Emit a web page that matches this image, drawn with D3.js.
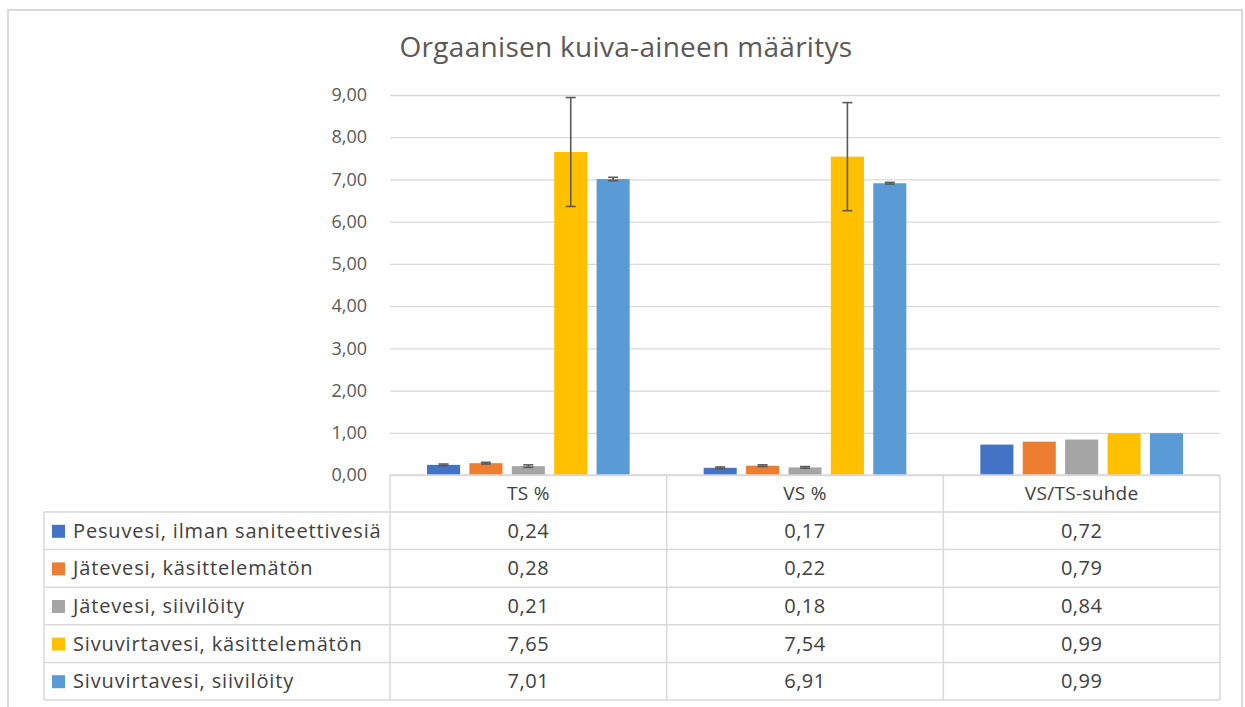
<!DOCTYPE html>
<html>
  <head>
    <meta charset="utf-8">
    <script src="https://d3js.org/d3.v7.min.js"></script>
  </head>
  <style>
    body { margin: 0; background: #fff; }
    text { font-family: "Open Sans", sans-serif; }
  </style>
  <body>
    <div id="my_chart"></div>
    <script>
        // data
        var categories = ["TS %", "VS %", "VS/TS-suhde"];
        var series = ["Pesuvesi, ilman saniteettivesiä", "Jätevesi, käsittelemätön", "Jätevesi, siivilöity",
                      "Sivuvirtavesi, käsittelemätön", "Sivuvirtavesi, siivilöity"];
        var values = [
            [0.24, 0.17, 0.72],
            [0.28, 0.22, 0.79],
            [0.21, 0.18, 0.84],
            [7.65, 7.54, 0.99],
            [7.01, 6.91, 0.99]
        ];
        var errors = [
            [0.02, 0.02, 0],
            [0.02, 0.02, 0],
            [0.03, 0.02, 0],
            [1.29, 1.28, 0],
            [0.04, 0.02, 0]
        ];
        var colors = ["#4472C4", "#ED7D31", "#A5A5A5", "#FFC000", "#5B9BD5"];
        var yTicks = [0, 1, 2, 3, 4, 5, 6, 7, 8, 9];

        var width = 1245, height = 707;
        var plot = {left: 390, right: 1220, top: 95, bottom: 475};
        var tableBottom = 700, tableLeft = 44, headerBottom = 512;

        var fi = d3.formatLocale({decimal: ",", thousands: " ", grouping: [3], currency: ["", "€"]});
        var fmt = fi.format(".2f");

        var svg = d3.select("#my_chart")
            .append("svg")
                .attr("width", width)
                .attr("height", height);

        // outer chart border
        svg.append("rect")
            .attr("x", 8).attr("y", 10)
            .attr("width", 1234).attr("height", 720)
            .attr("fill", "none")
            .attr("stroke", "#d9d9d9")
            .attr("stroke-width", 2);

        svg.append("text")
            .attr("x", 626)
            .attr("y", 57)
            .attr("text-anchor", "middle")
            .attr("font-size", "28px")
            .attr("letter-spacing", "0.3px")
            .attr("fill", "#595959")
            .text("Orgaanisen kuiva-aineen määritys");

        var x = d3.scaleBand()
            .domain(categories)
            .range([plot.left, plot.right]);

        var x1 = d3.scaleBand()
            .domain(d3.range(series.length))
            .range([37, x.bandwidth() - 37])
            .paddingInner(0.22);

        var y = d3.scaleLinear()
            .domain([0, 9])
            .range([plot.bottom, plot.top]);

        // grid + y labels
        var yAxis = svg.append("g")
            .attr("class", "grid")
            .attr("transform", "translate(" + plot.left + ",0)")
            .call(d3.axisLeft(y).tickValues(yTicks).tickSize(-(plot.right - plot.left)).tickFormat(fmt).tickPadding(23));
        yAxis.select(".domain").remove();
        yAxis.selectAll(".tick line").attr("stroke", "#d9d9d9").attr("stroke-width", 1.3);
        yAxis.selectAll(".tick text")
            .attr("font-size", "18px")
            .attr("fill", "#595959")
            .style("font-family", "'Open Sans', sans-serif");

        // bars
        var groups = svg.append("g")
            .selectAll("g")
            .data(series)
            .enter().append("g")
              .attr("fill", function(d, i) { return colors[i]; });

        groups.selectAll("rect")
            .data(function(d, i) { return categories.map(function(c, j) { return {s: i, c: c, v: values[i][j], e: errors[i][j]}; }); })
            .enter().append("rect")
              .attr("x", function(d) { return x(d.c) + x1(d.s); })
              .attr("y", function(d) { return y(d.v); })
              .attr("width", x1.bandwidth())
              .attr("height", function(d) { return y(0) - y(d.v); });

        // error bars
        var errs = [];
        series.forEach(function(s, i) {
            categories.forEach(function(c, j) {
                if (errors[i][j] > 0) errs.push({s: i, c: c, v: values[i][j], e: errors[i][j]});
            });
        });
        var eb = svg.append("g")
            .attr("stroke", "#595959")
            .attr("stroke-width", 1.6)
            .selectAll("g")
            .data(errs)
            .enter().append("g")
              .attr("transform", function(d) { return "translate(" + (x(d.c) + x1(d.s) + x1.bandwidth() / 2) + ",0)"; });
        eb.append("line")
            .attr("y1", function(d) { return y(d.v - d.e); })
            .attr("y2", function(d) { return y(d.v + d.e); });
        eb.append("line")
            .attr("x1", -5).attr("x2", 5)
            .attr("y1", function(d) { return y(d.v + d.e); })
            .attr("y2", function(d) { return y(d.v + d.e); });
        eb.append("line")
            .attr("x1", -5).attr("x2", 5)
            .attr("y1", function(d) { return y(d.v - d.e); })
            .attr("y2", function(d) { return y(d.v - d.e); });

        // data table
        var row = d3.scaleBand()
            .domain(series)
            .range([headerBottom, tableBottom]);

        var table = svg.append("g")
            .attr("stroke", "#d9d9d9")
            .attr("stroke-width", 1.5);
        table.append("line")
            .attr("x1", plot.left).attr("x2", plot.right)
            .attr("y1", plot.bottom).attr("y2", plot.bottom);
        table.selectAll(".hline")
            .data(series.concat(["end"]))
            .enter().append("line")
              .attr("x1", tableLeft).attr("x2", plot.right)
              .attr("y1", function(d) { return d == "end" ? tableBottom : row(d); })
              .attr("y2", function(d) { return d == "end" ? tableBottom : row(d); });
        table.selectAll(".vline")
            .data(categories.concat(["end"]))
            .enter().append("line")
              .attr("x1", function(d) { return d == "end" ? plot.right : x(d); })
              .attr("x2", function(d) { return d == "end" ? plot.right : x(d); })
              .attr("y1", plot.bottom).attr("y2", tableBottom);
        table.append("line")
            .attr("x1", tableLeft).attr("x2", tableLeft)
            .attr("y1", headerBottom).attr("y2", tableBottom);

        svg.append("g")
            .selectAll("text")
            .data(categories)
            .enter().append("text")
              .attr("x", function(d) { return x(d) + x.bandwidth() / 2; })
              .attr("y", (plot.bottom + headerBottom) / 2)
              .attr("dy", "0.35em")
              .attr("text-anchor", "middle")
              .attr("font-size", "19px")
              .attr("letter-spacing", "0.3px")
              .attr("fill", "#404040")
              .text(function(d) { return d; });

        var rows = svg.append("g")
            .selectAll("g")
            .data(series)
            .enter().append("g")
              .attr("transform", function(d) { return "translate(0," + (row(d) + row.bandwidth() / 2) + ")"; });

        rows.append("rect")
            .attr("x", 52).attr("y", -6)
            .attr("width", 13).attr("height", 13)
            .attr("fill", function(d, i) { return colors[i]; });

        rows.append("text")
            .attr("x", 73)
            .attr("dy", "0.35em")
            .attr("font-size", "20px")
            .attr("letter-spacing", "0.85px")
            .attr("fill", "#404040")
            .text(function(d) { return d; });

        rows.selectAll(".val")
            .data(function(d, i) { return values[i].map(function(v, j) { return {c: categories[j], v: v}; }); })
            .enter().append("text")
              .attr("x", function(d) { return x(d.c) + x.bandwidth() / 2; })
              .attr("dy", "0.35em")
              .attr("text-anchor", "middle")
              .attr("font-size", "20px")
              .attr("letter-spacing", "0.5px")
              .attr("fill", "#404040")
              .text(function(d) { return fmt(d.v); });
    </script>
  </body>
</html>
